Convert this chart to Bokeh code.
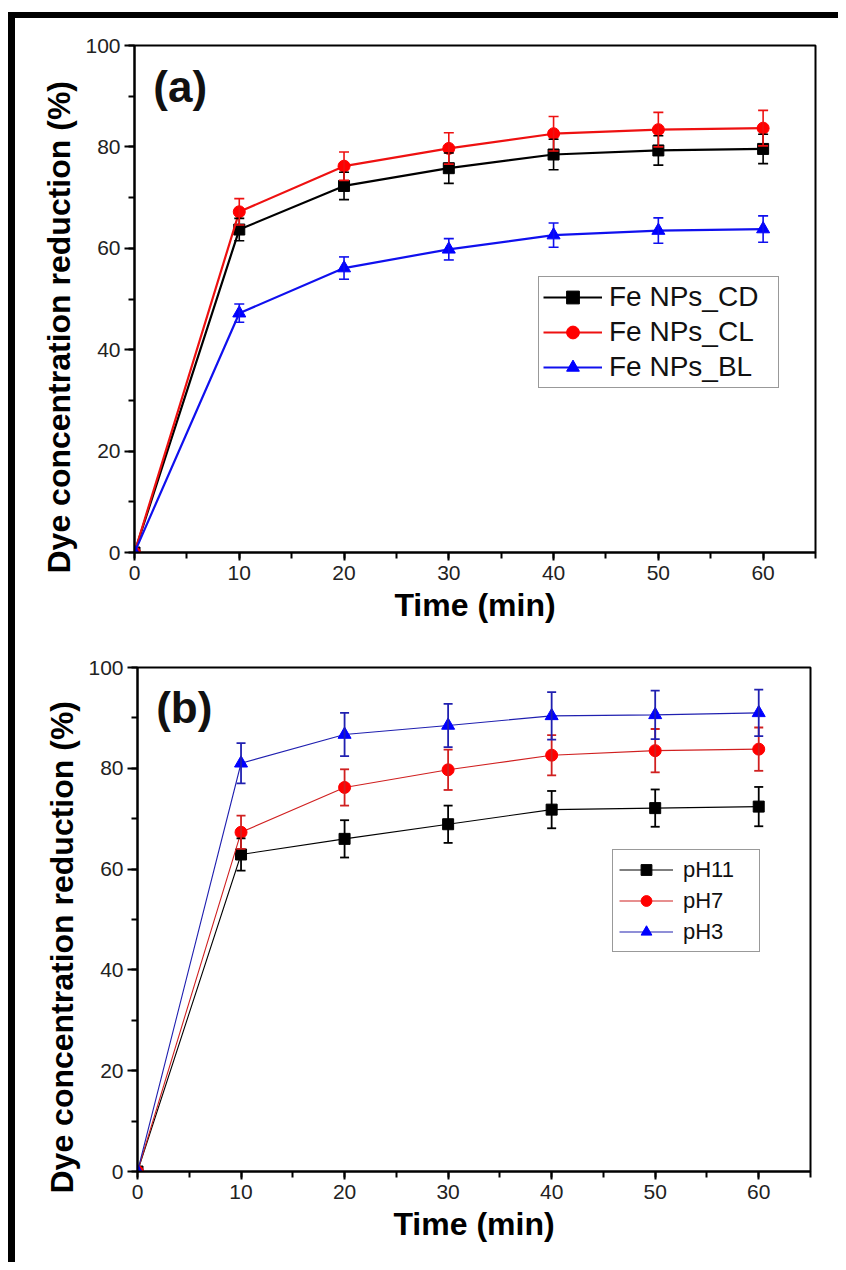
from bokeh.plotting import figure
from bokeh.models import (Whisker, TeeHead, ColumnDataSource, SingleIntervalTicker,
                          Range1d, Label, Div, Title)
from bokeh.layouts import column, row
from bokeh.embed import file_html
from bokeh.resources import INLINE

# ---------------- data ----------------
time_min = [0, 10, 20, 30, 40, 50, 60]

a_names = ["Fe NPs_CD", "Fe NPs_CL", "Fe NPs_BL"]
a_cd = [0, 63.7, 72.3, 75.8, 78.5, 79.3, 79.6]
a_cd_err = [0, 2.2, 2.7, 3.0, 3.0, 2.9, 2.9]
a_cl = [0, 67.2, 76.2, 79.7, 82.6, 83.4, 83.7]
a_cl_err = [0, 2.6, 2.8, 3.1, 3.4, 3.4, 3.5]
a_bl = [0, 47.2, 56.1, 59.8, 62.6, 63.5, 63.8]
a_bl_err = [0, 1.8, 2.2, 2.1, 2.4, 2.5, 2.6]

b_names = ["pH11", "pH7", "pH3"]
b_ph11 = [0, 62.9, 66.0, 68.9, 71.8, 72.1, 72.4]
b_ph11_err = [0, 3.2, 3.7, 3.7, 3.7, 3.7, 3.9]
b_ph7 = [0, 67.3, 76.2, 79.7, 82.6, 83.5, 83.8]
b_ph7_err = [0, 3.3, 3.6, 4.0, 4.0, 4.3, 4.3]
b_ph3 = [0, 81.0, 86.7, 88.5, 90.4, 90.6, 91.0]
b_ph3_err = [0, 4.0, 4.3, 4.3, 4.7, 4.8, 4.6]

x_label = "Time (min)"
y_label = "Dye concentration reduction (%)"

FONT = "Liberation Sans"
MARKERS = ["square", "circle", "triangle"]
MARKER_SIZES = [11, 12, 13]
MARKER_COLORS = ["#000000", "#ff0000", "#0000ff"]


def make_panel(tag, names, values, errors, line_colors, line_width, err_width,
               head_size, width, height, borders, ylabel_offset, legend_loc, legend_font,
               legend_row, legend_spacing, legend_padding, legend_glyph_w,
               legend_label_w, legend_standoff):
    bl, br, bt, bb = borders
    p = figure(width=width, height=height, output_backend="svg",
               toolbar_location=None, x_range=Range1d(0, 65), y_range=Range1d(0, 100),
               min_border_left=bl, min_border_right=br, min_border_top=bt,
               min_border_bottom=bb)
    p.background_fill_color = "white"
    p.border_fill_color = "white"
    p.outline_line_color = "black"
    p.outline_line_width = 2
    p.outline_line_alpha = 1
    p.grid.visible = False

    p.xaxis.ticker = SingleIntervalTicker(interval=10, num_minor_ticks=2)
    p.yaxis.ticker = SingleIntervalTicker(interval=20, num_minor_ticks=2)
    for ax in (p.xaxis[0], p.yaxis[0]):
        ax.axis_line_width = 2
        ax.axis_line_color = "black"
        ax.major_tick_line_width = 2
        ax.minor_tick_line_width = 2
        ax.major_tick_line_color = "black"
        ax.minor_tick_line_color = "black"
        ax.major_tick_in = 0
        ax.minor_tick_in = 0
        ax.major_label_text_font = FONT
        ax.major_label_text_font_size = "21px"
        ax.major_label_text_color = "#222222"
        ax.axis_label_text_font = FONT
        ax.axis_label_text_font_style = "bold"
        ax.axis_label_text_font_size = "32px"
        ax.axis_label_text_color = "black"
    p.xaxis.major_tick_out = 8
    p.xaxis.minor_tick_out = 6
    p.yaxis.major_tick_out = 10
    p.yaxis.minor_tick_out = 6
    p.xaxis.major_label_standoff = 5
    p.yaxis.major_label_standoff = 4
    p.xaxis.axis_label = x_label
    p.xaxis.axis_label_standoff = 4

    # y label as a left-side title so that it can be shifted along the axis
    p.add_layout(Title(text=y_label, align="left", offset=ylabel_offset, standoff=12,
                       text_font=FONT, text_font_style="bold", text_font_size="32px",
                       text_color="black"), "left")

    for i, name in enumerate(names):
        vals = values[i]
        errs = errors[i]
        src = ColumnDataSource(dict(x=time_min, y=vals))
        wx = [t for t, e in zip(time_min, errs) if e > 0]
        wu = [v + e for v, e in zip(vals, errs) if e > 0]
        wl = [v - e for v, e in zip(vals, errs) if e > 0]
        wsrc = ColumnDataSource(dict(x=wx, upper=wu, lower=wl))
        col = line_colors[i]
        p.add_layout(Whisker(source=wsrc, base="x", upper="upper", lower="lower",
                             line_color=col, line_width=err_width, level="glyph",
                             upper_head=TeeHead(size=head_size, line_color=col,
                                                line_width=err_width),
                             lower_head=TeeHead(size=head_size, line_color=col,
                                                line_width=err_width)))
        p.line("x", "y", source=src, line_color=col, line_width=line_width,
               legend_label=name)
        p.scatter("x", "y", source=src, marker=MARKERS[i], size=MARKER_SIZES[i],
                  fill_color=MARKER_COLORS[i], line_color=MARKER_COLORS[i],
                  legend_label=name)

    lg = p.legend[0]
    lg.location = legend_loc
    lg.label_text_font = FONT
    lg.label_text_font_size = legend_font
    lg.label_text_color = "#111111"
    lg.label_height = legend_row
    lg.glyph_height = legend_row
    lg.glyph_width = legend_glyph_w
    lg.label_width = legend_label_w
    lg.label_standoff = legend_standoff
    lg.spacing = legend_spacing
    lg.padding = legend_padding
    lg.margin = 0
    lg.border_line_color = "#333333"
    lg.border_line_width = 1.5
    lg.background_fill_color = "white"
    lg.background_fill_alpha = 1

    p.add_layout(Label(x=1.8, y=92.0, text=tag, text_font=FONT, text_font_style="bold",
                       text_font_size="44px", text_color="#111111",
                       text_baseline="middle", text_align="left"))
    return p


pa = make_panel("(a)", a_names, [a_cd, a_cl, a_bl], [a_cd_err, a_cl_err, a_bl_err],
                ["#000000", "#ee1111", "#1010ee"], 2.2, 1.6, 10,
                823, 622, (119, 23, 27, 88), -21, (404, 164), "28px",
                32, 3, 4, 59, 165, 7)
pb = make_panel("(b)", b_names, [b_ph11, b_ph7, b_ph3], [b_ph11_err, b_ph7_err, b_ph3_err],
                ["#000000", "#d02020", "#2020b0"], 1.1, 1.8, 9,
                823, 622, (122, 28, 27, 91), -22, (475, 219), "22px",
                27, 4, 6, 54, 70, 10)

top_gap = Div(width=830, height=12, margin=0, text="")
top_bar = Div(width=830, height=6, margin=0, text="",
              styles={"background-color": "black", "margin-left": "8px"})
left_gap = Div(width=8, height=1244, margin=0, text="")
left_bar = Div(width=7, height=1244, margin=0, text="",
               styles={"background-color": "black"})
layout = column(top_gap, top_bar,
                row(left_gap, left_bar, column(row(pa), row(pb))))

open("out.html", "w").write(file_html(layout, INLINE))
